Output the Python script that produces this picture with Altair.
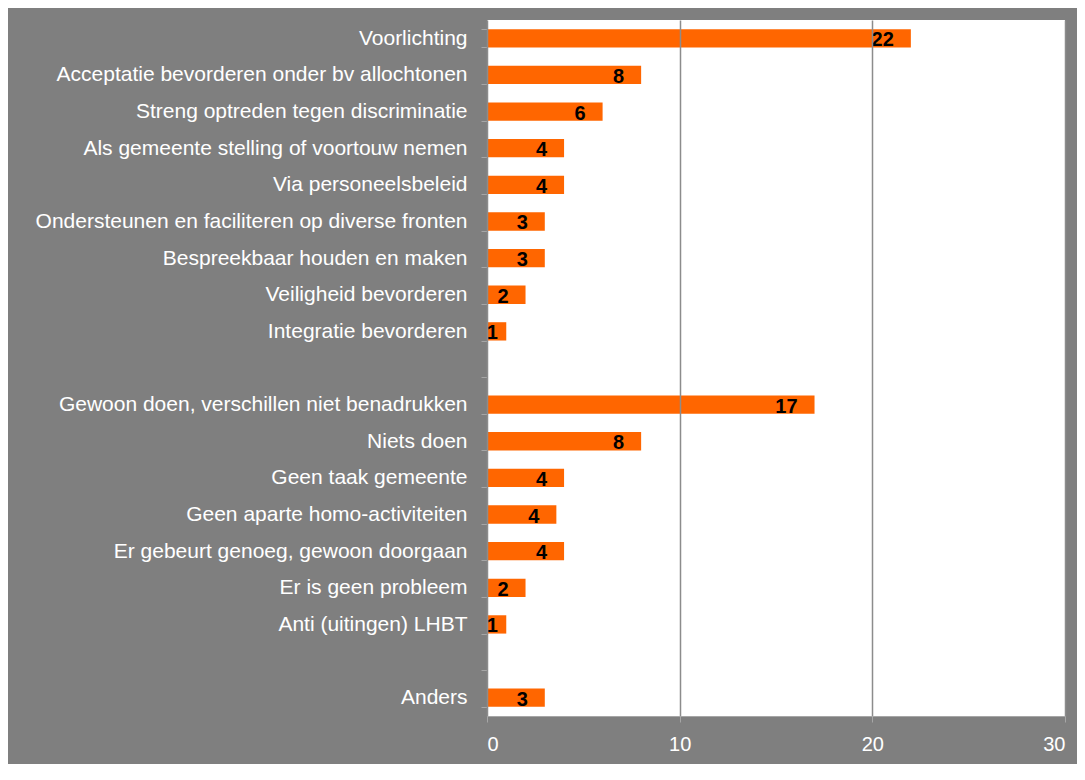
import altair as alt
import pandas as pd

categories = [
    "Voorlichting",
    "Acceptatie bevorderen onder bv allochtonen",
    "Streng optreden tegen discriminatie",
    "Als gemeente stelling of voortouw nemen",
    "Via personeelsbeleid",
    "Ondersteunen en faciliteren op diverse fronten",
    "Bespreekbaar houden en maken",
    "Veiligheid bevorderen",
    "Integratie bevorderen",
    " ",
    "Gewoon doen, verschillen niet benadrukken",
    "Niets doen",
    "Geen taak gemeente",
    "Geen aparte homo-activiteiten",
    "Er gebeurt genoeg, gewoon doorgaan",
    "Er is geen probleem",
    "Anti (uitingen) LHBT",
    "  ",
    "Anders",
]
values = [22, 8, 6, 4, 4, 3, 3, 2, 1, None, 17, 8, 4, 3.6, 4, 2, 1, None, 3]
labels = ["22", "8", "6", "4", "4", "3", "3", "2", "1", "", "17", "8", "4", "4", "4", "2", "1", "", "3"]

df = pd.DataFrame({"cat": categories, "val": values, "lab": labels})
bars_df = df[df["val"].notna()]

FONT = "Liberation Sans"

y_enc = alt.Y(
    "cat:N",
    sort=categories,
    scale=alt.Scale(domain=categories, paddingInner=0.5, paddingOuter=0.25),
    axis=alt.Axis(
        title=None,
        labelColor="white",
        labelFont=FONT,
        labelFontSize=21,
        labelPadding=14,
        tickColor="#a6a6a6",
        tickSize=6,
        tickBand="extent",
        domainColor="#a6a6a6",
        domainWidth=1,
        labelLimit=480,
    ),
)

x_enc = alt.X(
    "val:Q",
    scale=alt.Scale(domain=[0, 30]),
    axis=alt.Axis(
        title=None,
        values=[0, 10, 20, 30],
        labelColor="white",
        labelFont=FONT,
        labelFontSize=20,
        labelPadding=12,
        tickColor="#a6a6a6",
        tickSize=6,
        domainColor="#a6a6a6",
        grid=True,
        gridColor="#8c8c8c",
        gridWidth=1.5,
        zindex=1,
    ),
)

bars = alt.Chart(bars_df).mark_bar(color="#FF6600").encode(x=x_enc, y=y_enc)

text = alt.Chart(bars_df).transform_calculate(
    lx="max(datum.val, 1.45)"
).mark_text(
    align="right", baseline="middle", dx=-17, dy=2,
    font=FONT, fontSize=20, fontWeight="bold", color="black"
).encode(x="lx:Q", y=alt.Y("cat:N", sort=categories), text="lab:N")

chart = (
    alt.layer(bars, text)
    .properties(
        width=578,
        height=696,
        background="#7f7f7f",
        padding={"left": 479, "top": 12, "right": 12, "bottom": 48},
        autosize=alt.AutoSizeParams(type="none"),
    )
    .configure_view(fill="white", stroke=None)
)

chart.save("out.html", embed_options={"renderer": "svg", "actions": False})
